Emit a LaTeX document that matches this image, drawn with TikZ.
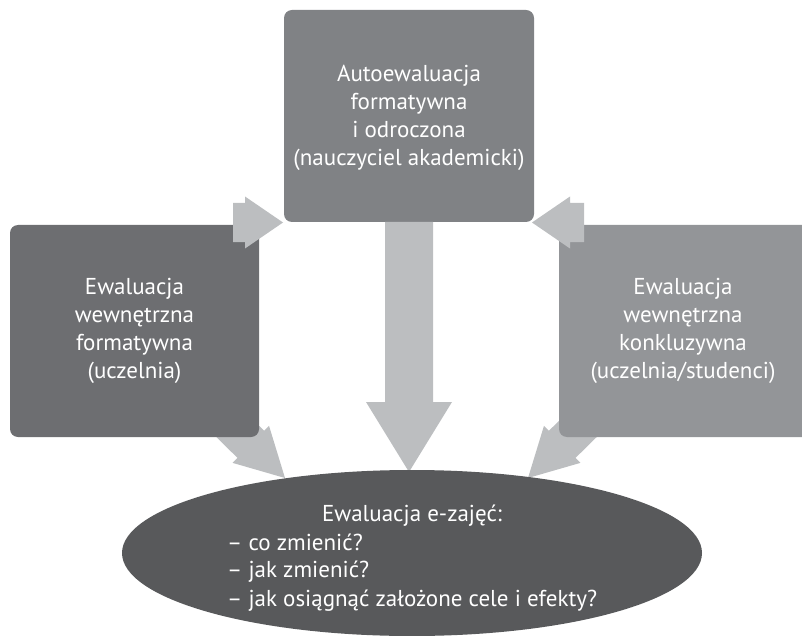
\documentclass[tikz,border=0pt]{standalone}
\usepackage{fontspec}
\setmainfont{PT Sans}
\usetikzlibrary{calc,shapes.geometric}

\definecolor{arrowgray}{HTML}{BCBEC0}
\definecolor{topgray}{HTML}{808285}
\definecolor{leftgray}{HTML}{6D6E71}
\definecolor{rightgray}{HTML}{939598}
\definecolor{goalgray}{HTML}{58595B}

% fat block arrow: #1 start, #2 tip, #3 half shaft width, #4 half head width, #5 head length
\newcommand\blockarrow[5]{%
  \coordinate (hb) at ($(#2)!#5!(#1)$);
  \fill[arrowgray] ($(#1)!#3!90:(#2)$) -- ($(hb)!#3!90:(#2)$) -- ($(hb)!#4!90:(#2)$)
    -- (#2) -- ($(hb)!#4!-90:(#2)$) -- ($(hb)!#3!-90:(#2)$) -- ($(#1)!#3!-90:(#2)$) -- cycle;
}

\tikzset{
  panel/.style={rounded corners=8pt, inner sep=0pt, draw=none},
  label/.style={text=white, align=center, inner sep=0pt,
    font=\fontsize{23}{28}\selectfont},
  goalline/.style={text=white, inner sep=0pt, font=\fontsize{23}{28}\selectfont},
}

\begin{document}
\begin{tikzpicture}[x=1pt,y=-1pt]
\useasboundingbox (0,0) rectangle (802,636);

% lower arrows, partly hidden behind the side panels
\coordinate (llA) at (222,416);
\coordinate (llB) at (285,478);
\coordinate (lrA) at (591,416);
\coordinate (lrB) at (528,478);
\blockarrow{llA}{llB}{19pt}{26pt}{48pt}
\blockarrow{lrA}{lrB}{19pt}{26pt}{48pt}

% panels
\node[panel, fill=topgray, minimum width=250pt, minimum height=212pt] (auto) at (409,116) {};
\node[panel, fill=leftgray, minimum width=249pt, minimum height=212pt] (formative) at (134.5,331) {};
\node[panel, fill=rightgray, minimum width=253pt, minimum height=212pt] (conclusive) at (685.5,331) {};

\node[label] (autotext) at (409,118) {Autoewaluacja\\formatywna\\i odroczona\\(nauczyciel akademicki)};
\node[label] (formtext) at (formative) {Ewaluacja\\wewnętrzna\\formatywna\\(uczelnia)};
\node[label] (conctext) at (683,331) {Ewaluacja\\wewnętrzna\\konkluzywna\\(uczelnia/studenci)};

% upper arrows into the top panel
\coordinate (tlA) at (233,222.5);
\coordinate (tlB) at (283,222.5);
\coordinate (trA) at (584,222.5);
\coordinate (trB) at (532,222.5);
\blockarrow{tlA}{tlB}{19.5pt}{26pt}{38pt}
\blockarrow{trA}{trB}{19.5pt}{26pt}{38pt}

% central arrow
\coordinate (cA) at (409,222);
\coordinate (cB) at (409,472);
\blockarrow{cA}{cB}{24pt}{43pt}{70pt}

% result ellipse with its heading and questions
\node[ellipse, fill=goalgray, inner sep=0pt, minimum width=580pt, minimum height=166pt] (goal) at (412,553) {};
\node[goalline, anchor=base] (goaltitle) at (412,521.7) {Ewaluacja e-zajęć:};
\node[goalline, anchor=base west] (q1) at (227,550) {– co zmienić?};
\node[goalline, anchor=base west] (q2) at (227,577.8) {– jak zmienić?};
\node[goalline, anchor=base west] (q3) at (227,606) {– jak osiągnąć założone cele i efekty?};
\end{tikzpicture}
\end{document}
